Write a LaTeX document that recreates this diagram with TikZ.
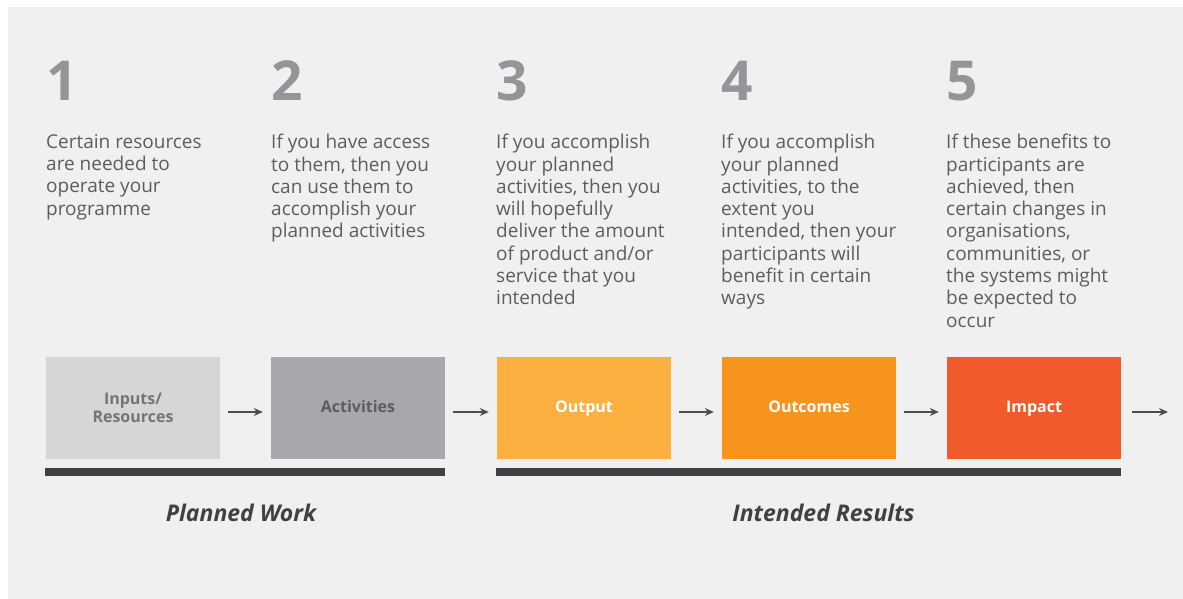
\documentclass[tikz,border=0pt]{standalone}
\usepackage{fontspec}
\setmainfont{Open Sans}
\usetikzlibrary{arrows.meta}
\definecolor{panel}{HTML}{F0F0F0}
\definecolor{numgray}{HTML}{939598}
\definecolor{txtgray}{HTML}{5C5D60}
\definecolor{boxA}{HTML}{D5D6D8}
\definecolor{boxB}{HTML}{A7A8AB}
\definecolor{boxC}{HTML}{FBB040}
\definecolor{boxD}{HTML}{F7941D}
\definecolor{boxE}{HTML}{F15A2B}
\definecolor{bardark}{HTML}{414042}
\definecolor{arrgray}{HTML}{4D4D4F}
\tikzset{
  stepnum/.style={anchor=base west, inner sep=0pt, text=numgray, font=\fontsize{55}{55}\selectfont\bfseries},
  steptext/.style={anchor=north west, inner sep=0pt, align=left, text=txtgray, font=\fontsize{19}{22.3}\selectfont},
  stage/.style={minimum width=174pt, minimum height=102pt, inner sep=0pt, align=center, font=\fontsize{16}{17.5}\selectfont\bfseries},
  oneline/.style={text height=11.5pt, text depth=3.5pt},
  flow/.style={arrgray, line width=1.3pt, -{Stealth[length=9pt,width=8pt]}, shorten >=8pt, shorten <=8pt},
  grouplabel/.style={inner sep=0pt, text=bardark, font=\fontsize{23}{23}\selectfont\bfseries\itshape}
}
\begin{document}
\begin{tikzpicture}[x=1pt,y=-1pt]
  \useasboundingbox (0,0) rectangle (1183,599);
  \fill[panel] (8,7) rectangle (1183,599);

  \node[stepnum] (n1) at (46,101) {1};
  \node[stepnum] (n2) at (271,101) {2};
  \node[stepnum] (n3) at (496,101) {3};
  \node[stepnum] (n4) at (721,101) {4};
  \node[stepnum] (n5) at (946,101) {5};

  \node[steptext] (t1) at (46,134) {Certain resources\\are needed to\\operate your\\programme};
  \node[steptext] (t2) at (271,134) {If you have access\\to them, then you\\can use them to\\accomplish your\\planned activities};
  \node[steptext] (t3) at (496,134) {If you accomplish\\your planned\\activities, then you\\will hopefully\\deliver the amount\\of product and/or\\service that you\\intended};
  \node[steptext] (t4) at (721,134) {If you accomplish\\your planned\\activities, to the\\extent you\\intended, then your\\participants will\\benefit in certain\\ways};
  \node[steptext] (t5) at (946,134) {If these benefits to\\participants are\\achieved, then\\certain changes in\\organisations,\\communities, or\\the systems might\\be expected to\\occur};

  \node[stage, fill=boxA, text=txtgray!85] (inputs) at (133,408) {Inputs/\\Resources};
  \node[stage, oneline, fill=boxB, text=txtgray] (activities) at (358,408) {Activities};
  \node[stage, oneline, fill=boxC, text=white] (output) at (584,408) {Output};
  \node[stage, oneline, fill=boxD, text=white] (outcomes) at (809,408) {Outcomes};
  \node[stage, oneline, fill=boxE, text=white] (impact) at (1034,408) {Impact};
  \coordinate (beyond) at (1168,412);

  \draw[flow] ([yshift=-4pt]inputs.east) -- ([yshift=-4pt]activities.west);
  \draw[flow] ([yshift=-4pt]activities.east) -- ([yshift=-4pt]output.west);
  \draw[flow] ([yshift=-4pt]output.east) -- ([yshift=-4pt]outcomes.west);
  \draw[flow] ([yshift=-4pt]outcomes.east) -- ([yshift=-4pt]impact.west);
  \draw[flow, shorten >=0pt, shorten <=11pt] ([yshift=-4pt]impact.east) -- (beyond);

  \fill[bardark] ([shift={(-1pt,-9pt)}]inputs.south west) rectangle ([yshift=-17pt]activities.south east);
  \fill[bardark] ([shift={(-1pt,-9pt)}]output.south west) rectangle ([yshift=-17pt]impact.south east);

  \node[grouplabel] (planned) at (241,513) {Planned Work};
  \node[grouplabel] (intended) at (823.5,513) {Intended Results};
\end{tikzpicture}
\end{document}
